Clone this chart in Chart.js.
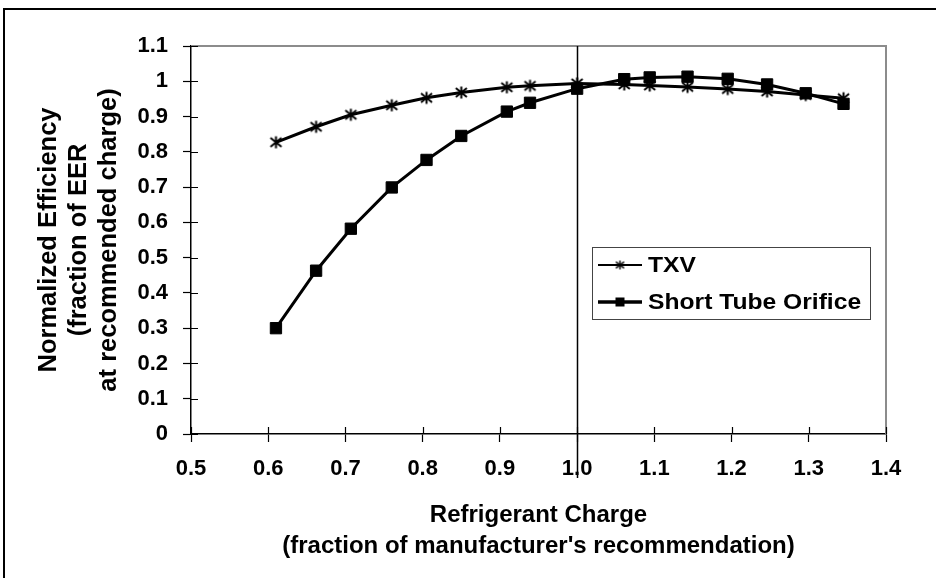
<!DOCTYPE html>
<html>
<head>
<meta charset="utf-8">
<script src="https://cdn.jsdelivr.net/npm/chart.js@4"></script>
<style>
  html, body { margin: 0; padding: 0; background: #fff; overflow: hidden; }
  #frame {
    position: absolute; left: 3px; top: 8px; width: 1000px; height: 700px;
    border-left: 2px solid #000; border-top: 2px solid #000;
  }
  #wrap { position: absolute; left: 0; top: 0; width: 936px; height: 578px; }
</style>
</head>
<body>
<div id="frame"></div>
<div id="wrap"><canvas id="chart" width="936" height="578"></canvas></div>
<script>
// refrigerant charge (fraction of manufacturer's recommendation)
const chargeLevels = [0.61, 0.662, 0.707, 0.76, 0.805, 0.85, 0.909, 0.939, 1.0,
                      1.061, 1.094, 1.143, 1.195, 1.246, 1.296, 1.345];
// normalized efficiency
const txvEff = [0.827, 0.871, 0.905, 0.932, 0.953, 0.968, 0.983, 0.987, 0.994,
                0.991, 0.988, 0.984, 0.978, 0.971, 0.961, 0.952];
const orificeEff = [0.300, 0.463, 0.582, 0.699, 0.777, 0.845, 0.914, 0.939, 0.979,
                    1.006, 1.011, 1.013, 1.007, 0.991, 0.966, 0.936];
const seriesNames = ['TXV', 'Short Tube Orifice'];
const xTickLabels = ['0.5', '0.6', '0.7', '0.8', '0.9', '1.0', '1.1', '1.2', '1.3', '1.4'];
const yTickLabels = ['0', '0.1', '0.2', '0.3', '0.4', '0.5', '0.6', '0.7', '0.8', '0.9', '1', '1.1'];
const refCharge = 1.0;

const FONT = '"Liberation Sans", Arial, sans-serif';

// asterisk marker (x plus vertical bar)
function makeAsterisk(size, lw) {
    const c = document.createElement('canvas');
    c.width = size; c.height = size;
    const g = c.getContext('2d');
    const m = lw, s = size - lw;
    g.strokeStyle = '#000';
    g.lineWidth = lw;
    g.beginPath();
    g.moveTo(size / 2, m - 0.5); g.lineTo(size / 2, s + 0.5);
    g.moveTo(m, m + 1); g.lineTo(s, s - 1);
    g.moveTo(s, m + 1); g.lineTo(m, s - 1);
    g.stroke();
    return c;
}
const asteriskBig = makeAsterisk(15, 2);
const asteriskSmall = makeAsterisk(11, 1.4);

function toPoints(xs, ys) {
    return xs.map((x, i) => ({ x: x, y: ys[i] }));
}

// crossing ticks, frame top/right, reference line, legend box
const decorPlugin = {
    id: 'decor',
    afterDraw(chart) {
        const ctx = chart.ctx;
        const area = chart.chartArea;
        const xs = chart.scales.x, ys = chart.scales.y;
        ctx.save();

        // grey top and right edge of plot area
        ctx.strokeStyle = '#8c8c8c';
        ctx.lineWidth = 2;
        ctx.beginPath();
        ctx.moveTo(area.left, area.top);
        ctx.lineTo(area.right, area.top);
        ctx.lineTo(area.right, area.bottom);
        ctx.stroke();

        // inner half of the crossing ticks
        ctx.strokeStyle = '#000';
        ctx.lineWidth = 1.2;
        ctx.beginPath();
        ys.ticks.forEach(t => {
            const py = Math.round(ys.getPixelForValue(t.value)) + 0.5;
            ctx.moveTo(area.left, py); ctx.lineTo(area.left + 7, py);
        });
        xs.ticks.forEach(t => {
            const px = Math.round(xs.getPixelForValue(t.value)) + 0.5;
            ctx.moveTo(px, area.bottom); ctx.lineTo(px, area.bottom - 7);
        });
        ctx.stroke();

        // vertical line at recommended charge
        const rx = Math.round(xs.getPixelForValue(refCharge)) + 0.5;
        ctx.lineWidth = 1.5;
        ctx.beginPath();
        ctx.moveTo(rx, area.top);
        ctx.lineTo(rx, area.bottom + 44);
        ctx.stroke();

        // legend
        const lx = 592, ly = 247, lw = 278, lh = 72;
        ctx.fillStyle = '#fff';
        ctx.fillRect(lx, ly, lw, lh);
        ctx.strokeStyle = '#444';
        ctx.lineWidth = 1;
        ctx.strokeRect(lx + 0.5, ly + 0.5, lw, lh);

        const rows = [
            { y: 265, name: seriesNames[0], width: 2, marker: 'ast' },
            { y: 302, name: seriesNames[1], width: 3.5, marker: 'sq' }
        ];
        rows.forEach(r => {
            ctx.strokeStyle = '#000';
            ctx.lineWidth = r.width;
            ctx.beginPath();
            ctx.moveTo(598, r.y); ctx.lineTo(642, r.y);
            ctx.stroke();
            if (r.marker === 'ast') {
                ctx.drawImage(asteriskSmall, 620 - 5.5, r.y - 5.5);
            } else {
                ctx.fillStyle = '#000';
                ctx.fillRect(620 - 4.5, r.y - 4.5, 9, 9);
            }
            // text is a bit wider than the font in the original
            ctx.save();
            ctx.translate(648, r.y + 1);
            ctx.scale(1.12, 1);
            ctx.fillStyle = '#000';
            ctx.font = 'bold 22px ' + FONT;
            ctx.textBaseline = 'middle';
            ctx.textAlign = 'left';
            ctx.fillText(r.name, 0, 0);
            ctx.restore();
        });
        ctx.restore();
    }
};

new Chart(document.getElementById('chart'), {
    type: 'scatter',
    data: {
        datasets: [
            {
                label: seriesNames[0],
                data: toPoints(chargeLevels, txvEff),
                showLine: true,
                borderColor: '#000',
                borderWidth: 3,
                pointStyle: asteriskBig,
                pointRadius: 7,
                order: 1
            },
            {
                label: seriesNames[1],
                data: toPoints(chargeLevels, orificeEff),
                showLine: true,
                borderColor: '#000',
                backgroundColor: '#000',
                borderWidth: 3,
                pointStyle: 'rect',
                pointRadius: 8,
                pointBorderWidth: 1,
                order: 0
            }
        ]
    },
    options: {
        responsive: false,
        animation: false,
        events: [],
        layout: { padding: { top: 46, right: 50, left: 0, bottom: 0 } },
        plugins: {
            legend: { display: false },
            tooltip: { enabled: false }
        },
        scales: {
            x: {
                type: 'linear',
                min: 0.5,
                max: 1.4,
                ticks: {
                    stepSize: 0.1,
                    color: '#000',
                    padding: 14,
                    maxRotation: 0,
                    font: { family: FONT, size: 22, weight: 'bold' },
                    callback: (v, i) => xTickLabels[i]
                },
                grid: { drawOnChartArea: false, tickLength: 8, color: '#000', tickWidth: 1.2 },
                border: { color: '#000', width: 1.5 },
                title: {
                    display: true,
                    text: ['Refrigerant Charge', "(fraction of manufacturer's recommendation)"],
                    color: '#000',
                    font: { family: FONT, size: 24, weight: 'bold', lineHeight: 1.3 },
                    padding: { top: 0, bottom: 16 }
                },
                afterFit(scale) {
                    scale.height = 144;
                    scale.paddingLeft = 0;
                    scale.paddingRight = 0;
                }
            },
            y: {
                min: 0,
                max: 1.1,
                ticks: {
                    stepSize: 0.1,
                    color: '#000',
                    padding: 15,
                    font: { family: FONT, size: 22, weight: 'bold' },
                    callback: (v, i) => yTickLabels[i]
                },
                grid: { drawOnChartArea: false, tickLength: 8, color: '#000', tickWidth: 1.2 },
                border: { color: '#000', width: 1.5 },
                title: {
                    display: true,
                    text: ['Normalized Efficiency', '(fraction of EER', 'at recommended charge)'],
                    color: '#000',
                    font: { family: FONT, size: 25.5, weight: 'bold', lineHeight: 1.18 },
                    padding: { top: 34, bottom: 0 }
                },
                afterFit(scale) {
                    scale.width = 191;
                    scale.paddingTop = 0;
                    scale.paddingBottom = 0;
                }
            }
        }
    },
    plugins: [decorPlugin]
});
</script>
</body>
</html>
